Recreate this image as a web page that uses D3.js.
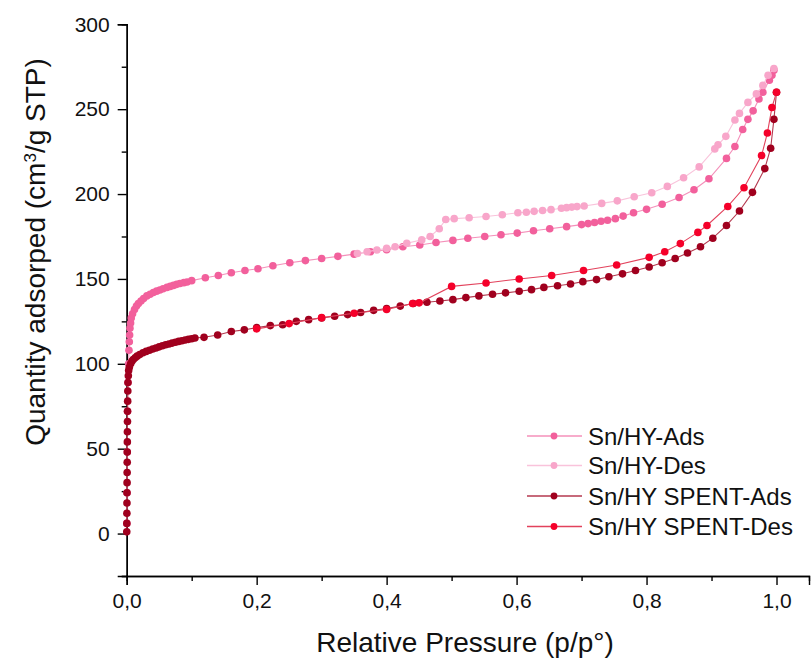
<!DOCTYPE html>
<html>
<head>
<meta charset="utf-8">
<script src="https://cdn.jsdelivr.net/npm/d3@7"></script>
<style>
  html, body { margin: 0; padding: 0; background: #fff; }
  svg text { font-family: "Liberation Sans", Arial, sans-serif; fill: #111; }
</style>
</head>
<body>
<svg id="chart" width="811" height="666"></svg>
<script>
// N2 isotherms: [relative pressure p/p°, quantity adsorbed cm³/g STP]
const hyAds = [
  [0.0002, 6], [0.0005, 24], [0.0009, 48], [0.0013, 72], [0.002, 89], [0.003, 100],
  [0.0035, 108], [0.004, 113], [0.0045, 117], [0.005, 121], [0.006, 124],
  [0.007, 127], [0.009, 129.5], [0.012, 132], [0.015, 134], [0.018, 135.5], [0.022, 137],
  [0.026, 138.5], [0.031, 140], [0.036, 141], [0.041, 142], [0.046, 142.8], [0.051, 143.5],
  [0.056, 144.2], [0.062, 145], [0.067, 145.6], [0.072, 146.2], [0.077, 146.8], [0.082, 147.3],
  [0.088, 147.8], [0.093, 148.2], [0.1, 149], [0.121, 150.7], [0.141, 152], [0.161, 153.6],
  [0.182, 155], [0.202, 156], [0.225, 157.8], [0.251, 159.5], [0.275, 160.8], [0.3, 162],
  [0.325, 163.3], [0.35, 164.6], [0.375, 166], [0.4, 167.2], [0.425, 169], [0.451, 170],
  [0.476, 171.5], [0.502, 172.7], [0.525, 174], [0.551, 175], [0.576, 176], [0.601, 177],
  [0.626, 178.4], [0.651, 179.6], [0.677, 180.8], [0.7, 182], [0.71, 182.6], [0.72, 183.2],
  [0.73, 184], [0.74, 184.6], [0.752, 185.5], [0.764, 187], [0.78, 189], [0.8, 191],
  [0.824, 194], [0.85, 198], [0.873, 202.5], [0.896, 209], [0.923, 221], [0.936, 228],
  [0.948, 238], [0.956, 244], [0.964, 249], [0.973, 256], [0.979, 260], [0.989, 267],
  [0.993, 270], [0.996, 273]
];

const hyDes = [
  [0.996, 274], [0.987, 270], [0.979, 264], [0.969, 259], [0.956, 254], [0.943, 247.5],
  [0.936, 243.6], [0.922, 234], [0.91, 229], [0.905, 226.6], [0.881, 216], [0.857, 209.6],
  [0.832, 204.5], [0.808, 200.8], [0.781, 198.4], [0.755, 196], [0.731, 194.5], [0.704, 193],
  [0.693, 192.6], [0.685, 192.3], [0.677, 192], [0.669, 191.6], [0.653, 190.8], [0.64, 190.3],
  [0.627, 189.8], [0.615, 189.3], [0.602, 189], [0.578, 187.8], [0.553, 186.8], [0.527, 186],
  [0.504, 185.5], [0.491, 185], [0.481, 179.6], [0.467, 175], [0.454, 173], [0.431, 171],
  [0.413, 169], [0.4, 168], [0.385, 167], [0.37, 166], [0.355, 165]
];

const spentAds = [
  [0.0001, 1], [0.0002, 6], [0.0003, 12], [0.0004, 18], [0.0005, 24], [0.0006, 30],
  [0.0007, 36], [0.0008, 42], [0.0009, 48], [0.001, 54], [0.0011, 60], [0.0012, 66],
  [0.0013, 72], [0.0015, 78], [0.0017, 84], [0.002, 89], [0.0025, 93], [0.003, 96],
  [0.004, 98], [0.006, 100], [0.008, 101.5], [0.01, 102.5], [0.013, 103.5], [0.016, 104.5],
  [0.02, 105.5], [0.025, 106.5], [0.03, 107.3], [0.035, 108], [0.04, 108.7], [0.045, 109.3],
  [0.05, 110], [0.055, 110.6], [0.06, 111.2], [0.065, 111.7], [0.07, 112.2], [0.075, 112.7],
  [0.08, 113.2], [0.085, 113.6], [0.09, 114], [0.095, 114.4], [0.1, 114.8], [0.105, 115.2],
  [0.119, 115.6], [0.14, 117], [0.161, 119], [0.181, 120], [0.2, 121.3], [0.221, 122.5],
  [0.24, 123], [0.261, 125], [0.28, 126], [0.3, 127], [0.32, 128], [0.34, 129],
  [0.36, 130.2], [0.38, 131.5], [0.4, 132.6], [0.421, 134], [0.441, 135.5], [0.462, 136.3],
  [0.482, 137], [0.502, 137.8], [0.522, 139], [0.542, 140], [0.563, 141], [0.583, 141.8],
  [0.604, 142.7], [0.623, 143.7], [0.642, 145], [0.663, 146], [0.683, 147], [0.702, 148.4],
  [0.723, 149.6], [0.742, 151.3], [0.763, 153], [0.783, 155], [0.804, 157], [0.824, 159.5],
  [0.844, 162], [0.863, 165.3], [0.883, 169], [0.902, 174], [0.923, 181.5], [0.943, 190],
  [0.963, 201], [0.982, 215], [0.991, 227], [0.996, 244], [1.0, 260]
];

const spentDes = [
  [1.0, 260], [0.993, 251], [0.986, 236], [0.977, 222.7], [0.95, 203.7], [0.925, 192.7],
  [0.893, 181.5], [0.879, 177.4], [0.852, 170.8], [0.828, 166], [0.804, 162.7], [0.754, 158.2],
  [0.703, 155], [0.654, 152], [0.604, 150], [0.553, 147.6], [0.5, 145.6], [0.45, 135.9],
  [0.44, 135.5], [0.4, 132], [0.35, 129.8], [0.3, 127.2], [0.25, 123.7], [0.2, 120.6]
];

const seriesNames = ["Sn/HY-Ads", "Sn/HY-Des", "Sn/HY SPENT-Ads", "Sn/HY SPENT-Des"];
const xTickLabels = ["0,0", "0,2", "0,4", "0,6", "0,8", "1,0"];
const yTickValues = [0, 50, 100, 150, 200, 250, 300];

const series = [
  { name: seriesNames[0], data: hyAds,    marker: "#f2609c", line: "#f490ba" },
  { name: seriesNames[1], data: hyDes,    marker: "#f8a6ca", line: "#f9c3db" },
  { name: seriesNames[2], data: spentAds, marker: "#a0001e", line: "#b4394f" },
  { name: seriesNames[3], data: spentDes, marker: "#f5002a", line: "#e2425c" }
];

const svg = d3.select("#chart");
const x0 = 126.7, x1 = 809, yTop = 24.3, yBot = 576;
const x = d3.scaleLinear().domain([0, 1.05]).range([x0, x1]);
const y = d3.scaleLinear().domain([-25, 300]).range([yBot, yTop]);

// axes
const xAxis = d3.axisBottom(x)
  .tickValues([0, 0.2, 0.4, 0.6, 0.8, 1.0])
  .tickFormat((d, i) => xTickLabels[i])
  .tickSize(9).tickPadding(8);
const xMinor = d3.axisBottom(x).tickValues([0.1, 0.3, 0.5, 0.7, 0.9]).tickFormat("").tickSize(5);
const yAxis = d3.axisLeft(y).tickValues(yTickValues).tickFormat(d3.format("d")).tickSize(9).tickPadding(8);
const yMinor = d3.axisLeft(y).tickValues([-25, 25, 75, 125, 175, 225, 275]).tickFormat("").tickSize(5);

function styleAxis(g) {
  g.select(".domain").attr("stroke", "#000").attr("stroke-width", 1.4);
  g.selectAll(".tick line").attr("stroke", "#000").attr("stroke-width", 1.4);
  g.selectAll(".tick text").attr("font-size", 21).attr("fill", "#111")
    .attr("font-family", "'Liberation Sans', Arial, sans-serif");
}

svg.append("g").attr("transform", `translate(0,${yBot})`).call(xMinor).call(styleAxis);
svg.append("g").attr("transform", `translate(0,${yBot})`).call(xAxis).call(styleAxis);
svg.append("g").attr("transform", `translate(${x0},0)`).call(yMinor).call(styleAxis);
svg.append("g").attr("transform", `translate(${x0},0)`).call(yAxis).call(styleAxis);

// axis titles
svg.append("text")
  .attr("x", 465).attr("y", 652)
  .attr("text-anchor", "middle").attr("font-size", 28)
  .text("Relative Pressure (p/p°)");

const yt = svg.append("text")
  .attr("transform", "translate(45,252) rotate(-90)")
  .attr("text-anchor", "middle").attr("font-size", 28);
yt.append("tspan").text("Quantity adsorped (cm");
yt.append("tspan").attr("baseline-shift", "super").attr("font-size", 17).text("3");
yt.append("tspan").text("/g STP)");

// curves
const line = d3.line().x(d => x(d[0])).y(d => y(d[1]));
const plot = svg.append("g");
series.forEach(s => {
  const g = plot.append("g");
  g.append("path").datum(s.data)
    .attr("d", line).attr("fill", "none")
    .attr("stroke", s.line).attr("stroke-width", 1.1);
  g.selectAll("circle").data(s.data).join("circle")
    .attr("cx", d => x(d[0])).attr("cy", d => y(d[1]))
    .attr("r", 3.8).attr("fill", s.marker);
});

// legend
const legend = svg.append("g");
const legY = [436, 465.5, 496, 526.5];
series.forEach((s, i) => {
  const g = legend.append("g").attr("transform", `translate(0,${legY[i]})`);
  g.append("line").attr("x1", 527).attr("x2", 582).attr("y1", 0).attr("y2", 0)
    .attr("stroke", s.line).attr("stroke-width", 1.3);
  g.append("circle").attr("cx", 554).attr("cy", 0).attr("r", 3.4).attr("fill", s.marker);
  g.append("text").attr("x", 588).attr("y", 0).attr("dy", "0.36em")
    .attr("font-size", 24).text(s.name);
});
</script>
</body>
</html>
